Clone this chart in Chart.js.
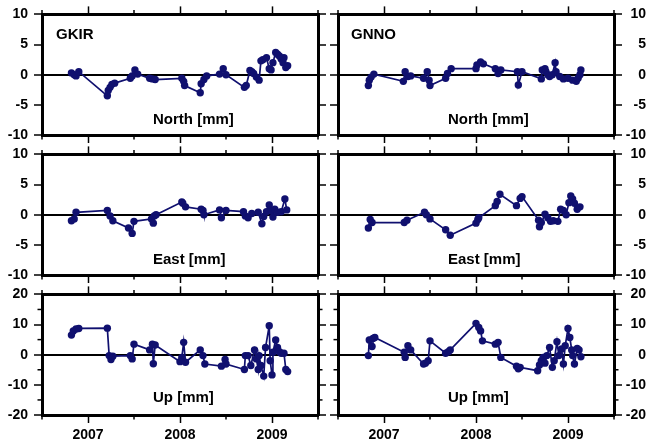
<!DOCTYPE html>
<html><head><meta charset="utf-8">
<script src="https://cdn.jsdelivr.net/npm/chart.js@4.4.1/dist/chart.umd.min.js"></script>
<style>
html,body{margin:0;padding:0;background:#fff;}
#wrap{position:relative;width:649px;height:443px;overflow:hidden;background:#fff;}
#wrap canvas{position:absolute;}
.lbl{position:absolute;font-family:'Liberation Sans',Arial,sans-serif;font-weight:bold;font-size:15px;line-height:15px;color:#000;white-space:nowrap;}
</style></head><body>
<div id="wrap"></div>
<script>
// ---------------- data ----------------
const stations = ['GKIR', 'GNNO'];
const components = ['North [mm]', 'East [mm]', 'Up [mm]'];
const yearTicks = [2007, 2008, 2009];

const gkirNorthT = [2006.82,2006.85,2006.87,2006.90,2007.21,2007.22,2007.24,2007.26,2007.29,2007.46,2007.48,2007.51,2007.54,2007.67,2007.70,2007.73,2008.02,2008.04,2008.05,2008.22,2008.23,2008.26,2008.29,2008.43,2008.47,2008.50,2008.70,2008.72,2008.76,2008.78,2008.80,2008.83,2008.86,2008.88,2008.90,2008.94,2008.97,2008.99,2009.01,2009.04,2009.06,2009.08,2009.10,2009.12,2009.13,2009.15,2009.17];
const gkirNorthV = [0.3,0.0,-0.2,0.5,-3.5,-2.6,-2.1,-1.6,-1.4,-0.6,-0.2,0.8,0.1,-0.6,-0.7,-0.8,-0.6,-1.1,-1.8,-3.0,-1.5,-0.8,-0.2,0.1,1.0,0.0,-2.1,-1.8,0.7,0.5,0.2,-0.4,-0.9,2.3,2.5,2.8,1.0,0.8,2.0,3.7,3.4,3.1,2.6,2.0,2.8,1.2,1.5];

const gnnoNorthT = [2006.83,2006.84,2006.86,2006.89,2007.21,2007.23,2007.26,2007.29,2007.43,2007.47,2007.49,2007.50,2007.67,2007.69,2007.73,2008.00,2008.01,2008.05,2008.08,2008.21,2008.24,2008.27,2008.45,2008.46,2008.50,2008.71,2008.72,2008.75,2008.76,2008.78,2008.80,2008.83,2008.86,2008.87,2008.91,2008.95,2009.00,2009.05,2009.09,2009.11,2009.13,2009.14];
const gnnoNorthV = [-1.8,-0.9,-0.4,0.1,-1.1,0.5,-0.3,-0.2,-0.6,0.5,-0.9,-1.8,-0.6,0.2,1.0,1.0,1.6,2.1,1.8,1.0,0.2,0.8,0.5,-1.7,0.5,-0.7,0.8,1.0,0.5,0.0,-0.3,0.0,2.0,0.5,-0.3,-0.7,-0.6,-0.9,-1.1,-0.6,0.0,0.8];

const gkirEastT = [2006.82,2006.85,2006.87,2007.21,2007.24,2007.27,2007.44,2007.48,2007.50,2007.69,2007.71,2007.72,2007.74,2008.02,2008.03,2008.06,2008.23,2008.25,2008.26,2008.43,2008.45,2008.50,2008.69,2008.71,2008.74,2008.78,2008.85,2008.89,2008.91,2008.94,2008.97,2008.99,2009.01,2009.03,2009.06,2009.10,2009.14,2009.16];
const gkirEastV = [-1.0,-0.7,0.4,0.7,-0.2,-1.0,-2.2,-3.1,-1.1,-0.7,-1.4,-0.2,0.0,2.1,1.9,1.3,0.9,0.7,0.0,0.8,-0.5,0.7,0.5,-0.2,-0.5,0.2,0.4,-1.5,-0.3,0.5,1.6,0.7,-0.4,0.9,0.4,0.5,2.6,0.8];

const gnnoEastT = [2006.83,2006.85,2006.87,2007.22,2007.25,2007.44,2007.46,2007.50,2007.67,2007.72,2008.00,2008.02,2008.03,2008.21,2008.23,2008.26,2008.44,2008.48,2008.50,2008.68,2008.69,2008.71,2008.75,2008.78,2008.81,2008.84,2008.89,2008.92,2008.95,2008.98,2009.01,2009.03,2009.05,2009.07,2009.10,2009.13];
const gnnoEastV = [-2.2,-0.8,-1.3,-1.3,-0.9,0.4,0.0,-0.7,-2.5,-3.4,-1.4,-0.8,-0.5,1.5,2.2,3.4,1.5,2.7,3.0,-0.9,-2.0,-1.3,0.1,-0.5,-1.1,-1.0,-1.1,0.9,0.7,0.0,2.0,3.1,2.6,1.9,0.9,1.3];

const gkirUpT = [2006.82,2006.84,2006.87,2006.90,2007.21,2007.23,2007.25,2007.27,2007.46,2007.48,2007.50,2007.67,2007.70,2007.71,2007.73,2008.00,2008.02,2008.04,2008.06,2008.22,2008.25,2008.27,2008.45,2008.49,2008.50,2008.70,2008.71,2008.74,2008.77,2008.81,2008.83,2008.85,2008.86,2008.88,2008.91,2008.93,2008.97,2008.98,2009.00,2009.01,2009.04,2009.06,2009.08,2009.10,2009.13,2009.15,2009.17];
const gkirUpV = [6.5,7.9,8.5,8.7,8.8,-0.3,-1.6,-0.5,-0.3,-1.4,3.5,1.6,3.5,-3.0,3.2,-2.3,-0.9,4.1,-2.5,1.6,-0.3,-3.1,-3.8,-1.6,-3.1,-4.9,-0.3,-0.3,-3.6,1.6,-1.4,-4.9,-0.3,-3.6,-7.1,2.4,9.6,-2.0,-6.7,0.8,4.9,2.4,1.0,0.5,0.5,-4.9,-5.6];

const gnnoUpT = [2006.83,2006.84,2006.87,2006.88,2006.90,2007.22,2007.23,2007.26,2007.29,2007.43,2007.45,2007.48,2007.50,2007.67,2007.70,2007.72,2008.00,2008.03,2008.05,2008.07,2008.21,2008.24,2008.27,2008.44,2008.46,2008.48,2008.67,2008.69,2008.71,2008.73,2008.75,2008.77,2008.80,2008.83,2008.85,2008.88,2008.90,2008.93,2008.95,2008.97,2009.00,2009.02,2009.04,2009.05,2009.07,2009.10,2009.12,2009.14];
const gnnoUpV = [-0.3,4.9,2.7,5.4,5.7,0.8,-0.9,3.0,1.6,-3.1,-2.8,-2.0,4.6,0.5,1.0,1.6,10.4,9.0,7.9,4.6,3.5,4.1,-0.9,-3.8,-4.7,-4.2,-5.3,-3.4,-2.0,-0.9,-2.8,-0.3,2.4,-4.2,-2.0,4.3,-0.3,1.9,-3.1,3.0,8.7,5.7,1.6,-0.3,-3.1,2.1,1.6,-0.7];

const horizRange = [2006.5, 2009.5];
const neRange = [-10, 10];
const upRange = [-20, 20];
// --------------------------------------

const FONT = "'Liberation Sans', Arial, sans-serif";
const NAVY = '#10106f';
Chart.defaults.font.family = FONT;
Chart.defaults.color = '#000';

const isMult = (v, m) => Math.abs(v / m - Math.round(v / m)) < 1e-6;

const minorTickPlugin = {
  id: 'minorTicks',
  afterDraw(chart, args, opts) {
    const ctx = chart.ctx, a = chart.chartArea, L = 4.5;
    ctx.save();
    ctx.strokeStyle = '#000';
    ctx.lineWidth = 1.5;
    ['x', 'x2', 'y', 'y2'].forEach(id => {
      const s = chart.scales[id];
      const major = id[0] === 'x' ? 1 : opts.yMajor;
      s.ticks.forEach(t => {
        if (isMult(t.value, major)) return;
        const p = s.getPixelForValue(t.value);
        ctx.beginPath();
        if (id === 'x') { ctx.moveTo(p, a.bottom); ctx.lineTo(p, a.bottom + L); }
        else if (id === 'x2') { ctx.moveTo(p, a.top); ctx.lineTo(p, a.top - L); }
        else if (id === 'y') { ctx.moveTo(a.left, p); ctx.lineTo(a.left - L, p); }
        else { ctx.moveTo(a.right, p); ctx.lineTo(a.right + L, p); }
        ctx.stroke();
      });
    });
    ctx.restore();
  }
};

const wrap = document.getElementById('wrap');

function addLabel(text, left, top) {
  const d = document.createElement('div');
  d.className = 'lbl';
  d.textContent = text;
  d.style.left = left + 'px';
  d.style.top = top + 'px';
  wrap.appendChild(d);
}

function panel(col, row, tArr, vArr, yRange, yStep, yMajor) {
  const cLeft = col === 0 ? 0 : 326;
  const cWidth = col === 0 ? 330 : 323;
  const cTop = 140 * row;
  const cHeight = row < 2 ? 150 : 163;
  const yW = col === 0 ? 42 : 12;
  const y2W = col === 0 ? 12 : 32;
  const xH = row < 2 ? 15 : 28;
  const x2H = 13;
  const showX = row === 2;

  const cv = document.createElement('canvas');
  cv.width = cWidth; cv.height = cHeight;
  cv.style.left = cLeft + 'px'; cv.style.top = cTop + 'px';
  cv.style.width = cWidth + 'px'; cv.style.height = cHeight + 'px';
  wrap.appendChild(cv);

  const font = {family: FONT, size: 14, weight: 'bold'};
  const xTickColor = c => isMult(c.tick.value, 1) ? '#000' : 'rgba(0,0,0,0)';
  const yTickColor = c => isMult(c.tick.value, yMajor) ? '#000' : 'rgba(0,0,0,0)';
  const border = {display: true, color: '#000', width: 3};

  const xAxis = (pos, show, h) => ({
    type: 'linear', position: pos, min: horizRange[0], max: horizRange[1],
    border,
    grid: {drawOnChartArea: false, drawTicks: true, tickLength: 8, tickWidth: 1.5, tickColor: xTickColor},
    ticks: {
      display: show, stepSize: 0.5, autoSkip: false, maxRotation: 0, padding: 4, font,
      callback: v => (isMult(v, 1) && yearTicks.includes(Math.round(v))) ? String(Math.round(v)) : ''
    },
    afterFit: s => { s.height = h; }
  });
  const yAxis = (pos, show, w, isMain) => ({
    type: 'linear', position: pos, min: yRange[0], max: yRange[1],
    border,
    grid: {
      drawOnChartArea: isMain, drawTicks: true, tickLength: 8, tickWidth: 1.5, tickColor: yTickColor,
      color: c => (c.tick && c.tick.value === 0) ? '#000' : 'rgba(0,0,0,0)', lineWidth: 2
    },
    ticks: {
      display: show, stepSize: yStep, autoSkip: false, padding: 6, font,
      crossAlign: pos === 'right' ? 'far' : 'near',
      callback: v => isMult(v, yMajor) ? String(v) : ''
    },
    afterFit: s => { s.width = w; }
  });

  new Chart(cv, {
    type: 'scatter',
    data: {
      datasets: [{
        data: tArr.map((t, i) => ({x: t, y: vArr[i]})),
        showLine: true,
        borderColor: NAVY, backgroundColor: NAVY,
        borderWidth: 1.7, pointRadius: 3.7, pointBorderWidth: 0, pointHoverRadius: 3.7,
        clip: false
      }]
    },
    options: {
      responsive: false, animation: false, events: [],
      layout: {padding: {left: 0, right: col === 0 ? 0 : 3, top: 0, bottom: 0}},
      plugins: {legend: {display: false}, tooltip: {enabled: false}, title: {display: false}, minorTicks: {yMajor}},
      scales: {
        x: xAxis('bottom', showX, xH),
        x2: xAxis('top', false, x2H),
        y: yAxis('left', col === 0, yW, true),
        y2: yAxis('right', col === 1, y2W, false)
      }
    },
    plugins: [minorTickPlugin]
  });
}

panel(0, 0, gkirNorthT, gkirNorthV, neRange, 5, 5);
panel(1, 0, gnnoNorthT, gnnoNorthV, neRange, 5, 5);
panel(0, 1, gkirEastT, gkirEastV, neRange, 5, 5);
panel(1, 1, gnnoEastT, gnnoEastV, neRange, 5, 5);
panel(0, 2, gkirUpT, gkirUpV, upRange, 5, 10);
panel(1, 2, gnnoUpT, gnnoUpV, upRange, 5, 10);

addLabel(stations[0], 56, 26);
addLabel(stations[1], 351, 26);
const labelTops = [111, 251, 389];
components.forEach((c, i) => { addLabel(c, 153, labelTops[i]); addLabel(c, 448, labelTops[i]); });
</script>
</body></html>
